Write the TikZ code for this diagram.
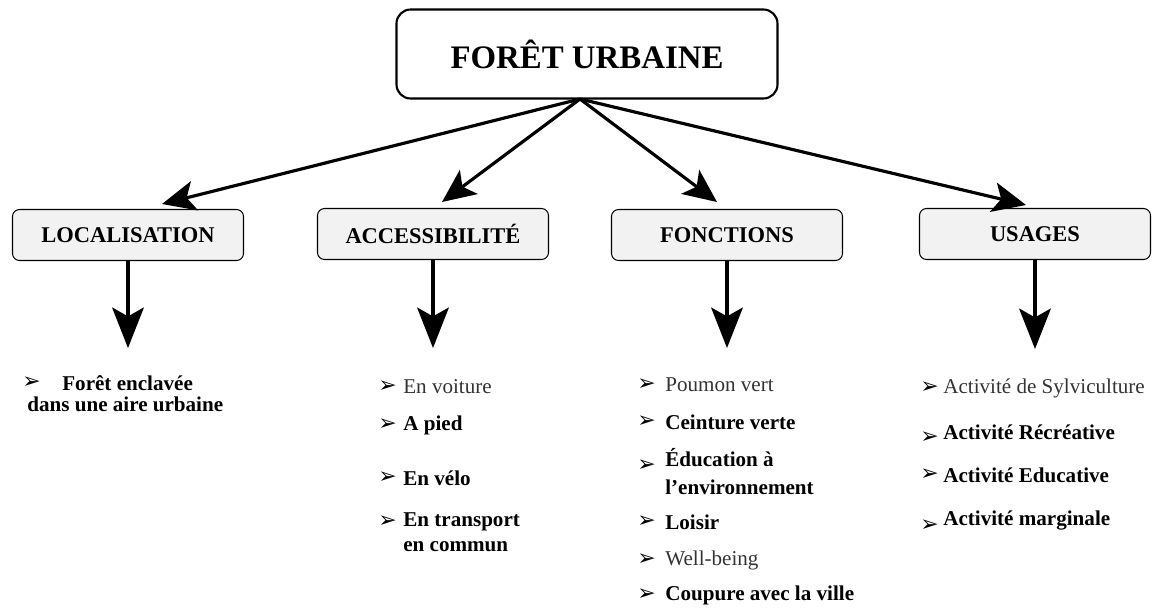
\documentclass[tikz,border=0pt]{standalone}
\usepackage{fontspec}
\setmainfont{Liberation Serif}
\newfontfamily\dingfont{DejaVu Sans}
\usepackage{tikz}
\usetikzlibrary{arrows.meta,calc,positioning}
\usepackage{xcolor}

\definecolor{boxgray}{HTML}{F2F2F2}
\newcommand{\puce}{{\dingfont\fontsize{12.5}{12.5}\selectfont ➢}}

\begin{document}
\begin{tikzpicture}[x=0.02cm,y=-0.02cm,
    titlebox/.style={draw,line width=1.2pt,rounded corners=8pt,minimum width=381*0.02cm,minimum height=89*0.02cm,font=\fontsize{18.7}{20}\selectfont\bfseries},
    catbox/.style={draw,line width=0.6pt,fill=boxgray,rounded corners=4pt,minimum width=231*0.02cm,minimum height=51*0.02cm,font=\fontsize{12.8}{14}\selectfont\bfseries},
    item/.style={anchor=west,inner sep=0pt,font=\fontsize{12}{14}\selectfont\bfseries},
    itemlight/.style={item,font=\fontsize{12}{14}\selectfont,text=black!80},
    bigarrow/.style={line width=1.8pt,-{Stealth[length=19pt,width=17pt,inset=4.5pt]}},
    downarrow/.style={line width=2pt,-{Stealth[length=23pt,width=18pt,inset=5pt]}}]
    \useasboundingbox (0,0) rectangle (1161,616);
    % title and categories
    \node[titlebox] (main) at (587,54) {FORÊT URBAINE};
    \node[catbox] (loc) at (128,235) {LOCALISATION};
    \node[catbox] (acc) at (433,234) {ACCESSIBILITÉ};
    \node[catbox] (fon) at (727,235) {FONCTIONS};
    \node[catbox] (usa) at (1035,234) {USAGES};
    % arrows from the title
    \coordinate (top) at (580,99);
    \coordinate (locin) at (162,204);
    \coordinate (accin) at (442,202);
    \coordinate (fonin) at (717,202);
    \coordinate (usain) at (1026,205);
    \draw[bigarrow] (top) -- (locin);
    \draw[bigarrow] (top) -- (accin);
    \draw[bigarrow] (top) -- (fonin);
    \draw[bigarrow] (top) -- (usain);
    % arrows down to the lists
    \coordinate (locout) at (128,348);
    \coordinate (accout) at (433,348);
    \coordinate (fonout) at (727,348);
    \coordinate (usaout) at (1035,349);
    \draw[downarrow] (loc.south) -- (locout);
    \draw[downarrow] (acc.south) -- (accout);
    \draw[downarrow] (fon.south) -- (fonout);
    \draw[downarrow] (usa.south) -- (usaout);
    % localisation
    \node[item] (l1b) at (22,383) {\puce};
    \node[item] (l1) at (62,383) {Forêt enclavée};
    \node[item] (l2) at (27,404) {dans une aire urbaine};
    % accessibilite
    \node[item] (a1b) at (378,387) {\puce};
    \node[itemlight] (a1) at (403,387) {En voiture};
    \node[item] (a2b) at (378,425) {\puce};
    \node[item] (a2) at (403,425) {A pied};
    \node[item] (a3b) at (378,478) {\puce};
    \node[item] (a3) at (403,478) {En vélo};
    \node[item] (a4b) at (378,522) {\puce};
    \node[item] (a4) at (403,522) {En transport};
    \node[item] (a5) at (403,547) {en commun};
    % fonctions
    \node[item] (f1b) at (637,385) {\puce};
    \node[itemlight] (f1) at (665,385) {Poumon vert};
    \node[item] (f2b) at (637,422) {\puce};
    \node[item] (f2) at (665,422) {Ceinture verte};
    \node[item] (f3b) at (637,466) {\puce};
    \node[item] (f3) at (665,458) {Éducation à};
    \node[item] (f4) at (665,487) {l’environnement};
    \node[item] (f5b) at (637,522) {\puce};
    \node[item] (f5) at (665,522) {Loisir};
    \node[item] (f6b) at (637,560) {\puce};
    \node[itemlight] (f6) at (665,560) {Well-being};
    \node[item] (f7b) at (637,595) {\puce};
    \node[item] (f7) at (665,595) {Coupure avec la ville};
    % usages
    \node[item] (u1b) at (920,388) {\puce};
    \node[itemlight] (u1) at (943,388) {Activité de Sylviculture};
    \node[item] (u2b) at (920,438) {\puce};
    \node[item] (u2) at (943,432) {Activité Récréative};
    \node[item] (u3b) at (920,475) {\puce};
    \node[item] (u3) at (943,475) {Activité Educative};
    \node[item] (u4b) at (920,526) {\puce};
    \node[item] (u4) at (943,520) {Activité marginale};
\end{tikzpicture}
\end{document}
